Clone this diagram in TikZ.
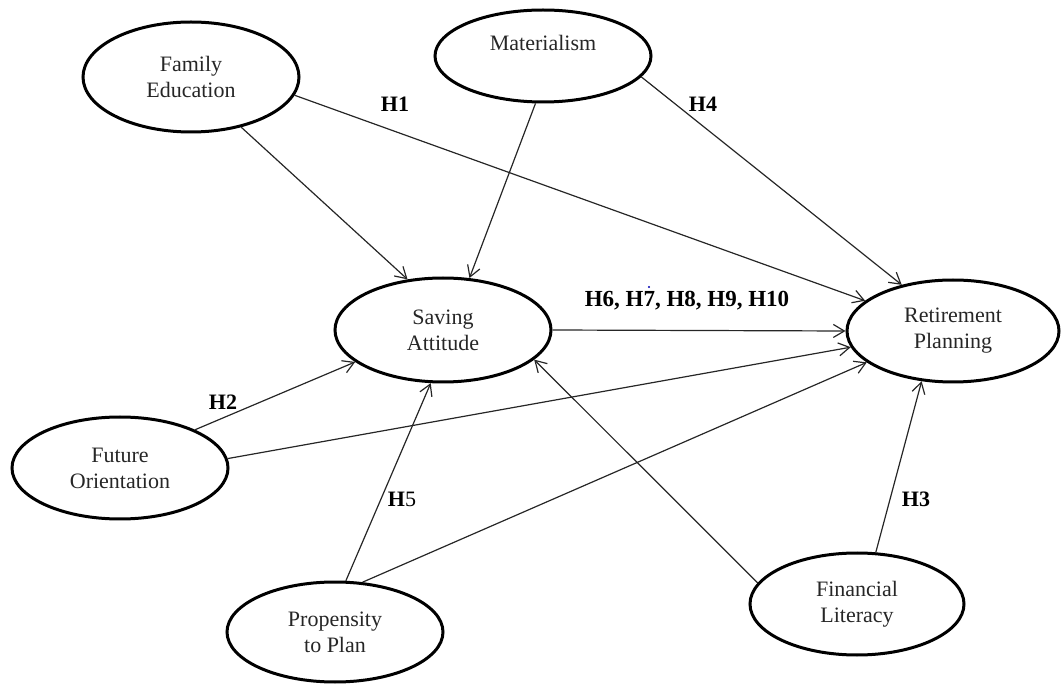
\documentclass[tikz,border=0pt]{standalone}
\usepackage{fontspec}
\setmainfont{Liberation Serif}
\usetikzlibrary{shapes.geometric,arrows.meta}
\begin{document}
\begin{tikzpicture}[x=1pt,y=-1pt,
  latent/.style={ellipse,draw,line width=3pt,inner sep=0pt,align=center,
    font=\fontsize{22}{26}\selectfont,text=black!85},
  link/.style={line width=1.2pt,draw=black!85,-{Straight Barb[length=11pt,width=13pt]}},
  hyp/.style={font=\bfseries\fontsize{22}{26}\selectfont,inner sep=0pt}]
\useasboundingbox (0,0) rectangle (1061,684);
% constructs
\node[latent,minimum width=216pt,minimum height=110pt] (fe) at (191,77) {Family\\Education};
\node[latent,minimum width=216pt,minimum height=92pt]  (mat) at (543,56) {Materialism\\~};
\node[latent,minimum width=216pt,minimum height=104pt] (sa) at (443,330) {Saving\\Attitude};
\node[latent,minimum width=212pt,minimum height=102pt] (rp) at (953,331) {Retirement\\Planning};
\node[latent,minimum width=216pt,minimum height=102pt] (fo) at (120,468) {Future\\Orientation};
\node[latent,minimum width=216pt,minimum height=100pt] (pp) at (335,632) {Propensity\\to Plan};
\node[latent,minimum width=214pt,minimum height=102pt] (fl) at (857,604) {Financial\\Literacy};
% paths
\draw[link] (fe.-45) -- (sa.125);
\draw[link] (fe.-10.6) -- (rp.161);
\draw[link] (mat.-99) -- (sa.63);
\draw[link] (mat.-12) -- (rp.138);
\draw[link] (sa.east) -- (rp.west);
\draw[link] (fo.27) -- (sa.200);
\draw[link] (fo.5) -- (rp.189);
\draw[link] (pp.78.5) -- (sa.-103);
\draw[link] (pp.61) -- (rp.200);
\draw[link] (fl.168) -- (sa.-18);
\draw[link] (fl.70.6) -- (rp.238.5);
% hypothesis labels
\node[hyp] (h1) at (395,104) {H1};
\node[hyp] (h4) at (703,104) {H4};
\node[hyp,font=\bfseries\fontsize{23}{27}\selectfont] (h6) at (687,301) {H6, H7, H8, H9, H10};
\node[hyp] (h2) at (223,402) {H2};
\node[hyp] (h5) at (402,499) {H\textmd{5}};
\node[hyp] (h3) at (916,499) {H3};
\fill[blue!70!black] (649,287) circle (1.2);
\end{tikzpicture}
\end{document}
